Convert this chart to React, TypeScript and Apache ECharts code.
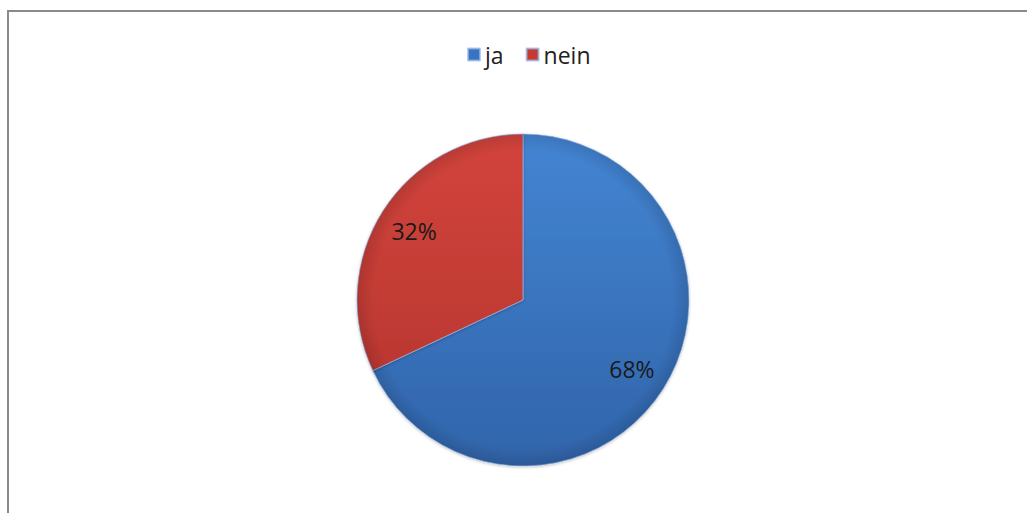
import React, { useEffect, useRef } from "react";
import * as echarts from "echarts";

const categories = ["ja", "nein"];
const values = [68, 32];
const labels = ["68%", "32%"];

const colors = [
  { top: "#4485d3", bottom: "#3064aa", legend: "#3a73c0" },
  { top: "#d2443c", bottom: "#b3332e", legend: "#c53a33" },
];

const CX = 523;
const CY = 300;
const R = 166;

export default function App() {
  const ref = useRef<HTMLDivElement>(null);
  useEffect(() => {
    if (!ref.current) return;
    const chart = echarts.init(ref.current, undefined, { renderer: "svg" });
    const data = categories.map((name, i) => ({
      name,
      value: values[i],
      itemStyle: {
        color: new echarts.graphic.LinearGradient(
          0, CY - R, 0, CY + R,
          [
            { offset: 0, color: colors[i].top },
            { offset: 1, color: colors[i].bottom },
          ],
          true
        ),
      },
    }));
    const rimData = categories.map((name, i) => ({ name, value: values[i] }));
    const labelData = categories.map((name, i) => ({
      name,
      value: values[i],
      label: { formatter: labels[i] },
    }));
    chart.setOption({
      animation: false,
      backgroundColor: "#ffffff",
      legend: {
        data: categories.map((name, i) => ({
          name,
          itemStyle: { color: colors[i].legend },
        })),
        top: 38,
        left: 462,
        icon: "rect",
        itemWidth: 12,
        itemHeight: 12,
        itemGap: 22,
        textStyle: { fontFamily: "Open Sans", fontSize: 23, color: "#222222" },
      },
      graphic: [
        {
          type: "rect",
          shape: { x: 8, y: 11, width: 1040, height: 540 },
          style: { fill: "none", stroke: "#8a8a8a", lineWidth: 2 },
          silent: true,
        },
      ],
      series: [
        {
          type: "pie",
          center: [CX, CY],
          radius: [0, R],
          startAngle: 90,
          clockwise: true,
          label: { show: false },
          labelLine: { show: false },
          itemStyle: {
            borderColor: "rgba(150,185,235,0.7)",
            borderWidth: 1,
            shadowBlur: 3,
            shadowColor: "rgba(0,0,0,0.25)",
            shadowOffsetY: 1,
          },
          emphasis: { disabled: true },
          data,
        },
        {
          type: "pie",
          center: [CX, CY],
          radius: [0, R],
          startAngle: 90,
          clockwise: true,
          silent: true,
          label: { show: false },
          labelLine: { show: false },
          itemStyle: {
            color: new echarts.graphic.RadialGradient(
              CX, CY, R,
              [
                { offset: 0, color: "rgba(0,0,0,0)" },
                { offset: 0.9, color: "rgba(0,0,0,0)" },
                { offset: 1, color: "rgba(0,0,0,0.12)" },
              ],
              true
            ),
          },
          emphasis: { disabled: true },
          data: rimData,
        },
        {
          type: "pie",
          center: [CX, CY],
          radius: [86, R],
          startAngle: 90,
          clockwise: true,
          silent: true,
          itemStyle: { color: "rgba(0,0,0,0)" },
          label: {
            show: true,
            position: "inside",
            fontFamily: "Open Sans",
            fontSize: 23,
            color: "#1a1a1a",
          },
          labelLine: { show: false },
          emphasis: { disabled: true },
          data: labelData,
        },
      ],
    });
    return () => chart.dispose();
  }, []);
  return (
    <div
      ref={ref}
      style={{ position: "fixed", left: 0, top: 0, width: 1027, height: 513 }}
    />
  );
}
